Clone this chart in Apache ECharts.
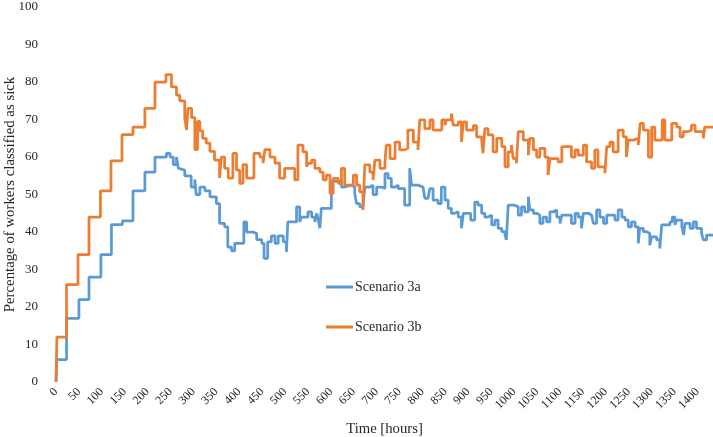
<!DOCTYPE html>
<html>
<head>
<meta charset="utf-8">
<script src="https://cdn.jsdelivr.net/npm/echarts@6/dist/echarts.min.js"></script>
<style>
html,body{margin:0;padding:0;background:#fff;}
#chart{width:713px;height:437px;}
</style>
</head>
<body>
<div id="chart"></div>
<script>
// Scenario 3a (blue): time [hours] and percentage
var timeA = [0,2,23,50,72,98,121,145,168,194,216,241,249,256,263,267,270,281,295,303,306,314,325,336,350,357,368,375,383,390,410,416,430,438,449,454,462,470,478,485,496,503,506,525,532,536,550,558,565,569,572,576,579,601,623,630,645,652,656,663,670,674,685,692,700,711,718,725,732,740,747,761,772,776,790,801,805,812,816,823,834,841,849,856,863,870,878,885,889,905,914,921,929,936,943,951,958,965,973,980,983,987,1000,1009,1016,1023,1031,1034,1042,1049,1056,1063,1071,1078,1085,1093,1100,1104,1125,1133,1140,1147,1151,1162,1169,1173,1180,1187,1195,1202,1220,1227,1235,1242,1249,1256,1264,1271,1274,1282,1289,1296,1300,1311,1318,1322,1340,1345,1351,1355,1366,1370,1373,1384,1391,1398,1409,1413,1420,1434];
var valA  = [0,6,17,22,28,34,42,43,51,56,60,61,60,58,60,57,56.5,55,52,54,50,52,51,49.4,47.6,42.3,41.4,36,35,37,42.7,40,39.6,38,37,33,37.4,39,37,39,37.4,34.7,42.7,46.7,42.7,44,45.4,44,42.7,45,43.6,41,46.3,53.5,52,52.5,52,50.3,47.6,46.7,46.3,52,52.5,50,52,51.6,55.6,54.3,52,52.5,51.6,47.2,57,52.5,52,51.6,49,49.4,51.6,48.5,47.6,52,48.5,46.3,45,45.4,44,41,45,43.2,48,47.2,45,44,44.5,41.9,43.2,41,40.1,39.2,37.9,47.2,46.7,44.5,46.7,45.4,49.4,45.9,45,44.5,42.3,44,42.7,45.4,45.9,44,42.3,44.5,42.3,45,44,41,45,44.5,44,42.3,45.9,44,42.3,44.5,43.2,45.9,44,43.2,41.4,42.7,41.4,37,41,40.1,39.6,36.5,38.7,37.9,35.6,41.9,42.7,44,41.9,43.2,41.4,39.2,42.3,41,42.7,41,39.6,37.9,39.2,39.2];
// Scenario 3b (orange)
var timeB = [0,2,23,48,72,97,120,144,168,194,216,240,252,263,270,281,285,288,296,303,309,314,320,328,336,346,357,361,368,376,386,394,401,408,416,432,445,452,456,467,478,488,499,521,528,539,547,550,558,565,576,583,590,598,605,616,623,630,649,656,663,670,674,685,692,696,707,718,721,729,740,750,761,768,780,790,794,805,816,823,842,849,852,863,867,878,885,889,896,911,918,929,932,936,943,954,962,973,980,987,994,998,1005,1009,1020,1031,1034,1042,1049,1056,1067,1074,1078,1096,1104,1125,1133,1140,1151,1158,1169,1176,1183,1198,1202,1209,1216,1227,1238,1245,1249,1260,1271,1275,1282,1293,1300,1307,1323,1329,1344,1355,1362,1369,1380,1387,1395,1413,1416,1434];
var valB  = [0,12,26,34,44,51,59,66,68,73,80,82,78.7,76.5,75,70.4,67.2,73,70.5,62,69.5,67,65,63.7,61.5,59.2,54.4,60,57,54.4,61,56.5,53,58,54.4,61,60,58.4,62,60,58.4,54.4,57,53.9,63.2,61.4,57.4,58.3,59.2,57,56,53.9,55.2,50.3,54.3,53,57,52.5,55.2,52.5,50.7,45.9,57.9,56,53.9,59.2,57,58.7,63.2,59.6,64,61.9,62.3,67.2,64,61.9,69.9,67.6,69.9,67.2,69.9,68.5,69.9,71.6,68.5,69.4,64,69.4,67.2,68.4,65.4,64.5,61,67.6,65.9,61.4,65,62.8,57.4,61.4,63.2,59.6,58.3,66.8,64.5,60.5,65,61.9,60,62.3,60,55.2,59.6,58.7,62.8,60,61.9,60.5,63.2,58.7,57,61.9,57.4,55.7,62.8,64,61.4,67.2,65.4,60,64.5,65,63.2,69,67.2,60,68,64.5,69.9,64.5,69,68,65.4,66.8,67.2,68.5,66.8,65,68,68];
var seriesNames = ['Scenario 3a','Scenario 3b'];
var seriesColors = ['#5B9BD5','#ED7D31'];

function pairs(t, v){ var out=[]; for(var i=0;i<t.length;i++) out.push([t[i], v[i]]); return out; }

var font = "'Liberation Serif','Times New Roman',serif";
var chart = echarts.init(document.getElementById('chart'), null, {renderer:'canvas'});
chart.setOption({
  animation:false,
  backgroundColor:'#ffffff',
  grid:{left:56, right:0, top:7, bottom:55, containLabel:false, outerBoundsMode:'none'},
  legend:{
    orient:'vertical', left:321, top:275,
    icon:'rect', itemWidth:27, itemHeight:3, itemGap:26,
    textStyle:{fontFamily:font, fontSize:14, color:'#262626', padding:[0,0,0,-3]},
    data:seriesNames
  },
  xAxis:{
    type:'value', min:0, max:1434, interval:50,
    name:'Time [hours]', nameLocation:'middle', nameGap:40, nameMoveOverlap:false,
    nameTextStyle:{fontFamily:font, fontSize:14.7, color:'#262626'},
    axisLine:{show:false}, axisTick:{show:false}, splitLine:{show:false},
    axisLabel:{rotate:45, margin:8, fontFamily:font, fontSize:12, color:'#262626', showMaxLabel:false,
      formatter:function(v){ return String(v); }}
  },
  yAxis:{
    type:'value', min:0, max:100, interval:10,
    name:'Percentage of workers classified as sick', nameLocation:'middle', nameGap:38, nameMoveOverlap:false,
    nameTextStyle:{fontFamily:font, fontSize:14.8, color:'#262626'},
    axisLine:{show:false}, axisTick:{show:false}, splitLine:{show:false},
    axisLabel:{margin:18, fontFamily:font, fontSize:13, color:'#262626'}
  },
  series:[
    {name:seriesNames[0], type:'line', step:'end', showSymbol:false, symbol:'none',
     color:seriesColors[0], lineStyle:{width:2.75, color:seriesColors[0]}, data:pairs(timeA,valA)},
    {name:seriesNames[1], type:'line', step:'end', showSymbol:false, symbol:'none',
     color:seriesColors[1], lineStyle:{width:2.75, color:seriesColors[1]}, data:pairs(timeB,valB)}
  ]
});
</script>
</body>
</html>
